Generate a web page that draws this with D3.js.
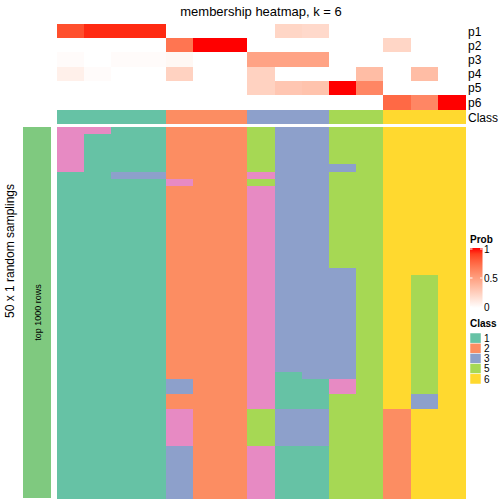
<!DOCTYPE html>
<html><head><meta charset="utf-8">
<script src="https://cdn.jsdelivr.net/npm/d3@7"></script>
<style>body{margin:0;background:#fff}svg{display:block;font-family:"Liberation Sans",Arial,sans-serif}rect.cell{shape-rendering:crispEdges}</style>
</head><body><svg id="c" width="504" height="504"></svg>
<script>
// ---- data ----
const samples = d3.range(15).map(i => "s" + (i + 1));
const probRows = ["p1", "p2", "p3", "p4", "p5", "p6"];
const p1 = [0.85, 0.95, 0.95, 0.95, 0, 0, 0, 0, 0.22, 0.2, 0, 0, 0, 0, 0];
const p2 = [0, 0, 0, 0, 0.7, 1, 1, 0, 0, 0, 0, 0, 0.22, 0, 0];
const p3 = [0.02, 0, 0.02, 0.02, 0.04, 0, 0, 0.48, 0.48, 0.48, 0, 0, 0, 0, 0];
const p4 = [0.08, 0.02, 0, 0, 0.24, 0, 0, 0.24, 0, 0, 0, 0.35, 0, 0.35, 0];
const p5 = [0, 0, 0, 0, 0, 0, 0, 0.24, 0.3, 0.32, 1, 0.62, 0, 0, 0];
const p6 = [0, 0, 0, 0, 0, 0, 0, 0, 0, 0, 0, 0, 0.75, 0.62, 1];
const classRow = [1, 1, 1, 1, 2, 2, 2, 3, 3, 3, 5, 5, 6, 6, 6];
// class per random sampling (50 rows), one string per sample column
const samplingCols = [
  "44444411111111111111111111111111111111111111111111",
  "41111111111111111111111111111111111111111111111111",
  "11111131111111111111111111111111111111111111111111",
  "11111131111111111111111111111111111111111111111111",
  "22222224222222222222222222222222223322444443333333",
  "22222222222222222222222222222222222222222222222222",
  "22222222222222222222222222222222222222222222222222",
  "55555545444444444444444444444444444444555554444444",
  "33333333333333333333333333333333311111333331111111",
  "33333333333333333333333333333333331111333331111111",
  "55555355555555555553333333333333334455555555555555",
  "55555555555555555555555555555555555555555555555555",
  "66666666666666666666666666666666666666222222222222",
  "66666666666666666666555555555555555533666666666666",
  "66666666666666666666666666666666666666666666666666"
];
const legendClasses = [1, 2, 3, 5, 6];
const probTicks = [0, 0.5, 1];
const probTickLabels = ["0", "0.5", "1"];

// ---- drawing ----
const probs = [p1, p2, p3, p4, p5, p6];
const classColor = d3.scaleOrdinal().domain([1, 2, 3, 4, 5, 6])
  .range(["#66C2A5", "#FC8D62", "#8DA0CB", "#E78AC3", "#A6D854", "#FFD92F"]);
const probColor = d3.scaleLinear().domain([0, 1]).range(["#FFFFFF", "#FF0000"]).interpolate(d3.interpolateLab);

const svg = d3.select("#c");
const x = d3.scaleBand().domain(d3.range(samples.length)).range([57, 465]);
const yAnn = d3.scaleBand().domain(probRows).range([24, 109.3]);
const yMain = d3.scaleBand().domain(d3.range(50)).range([127, 498]);

svg.append("text").attr("x", 261).attr("y", 16).attr("text-anchor", "middle")
  .attr("font-size", 13).text("membership heatmap, k = 6");

// prob annotation
probRows.forEach((r, ri) => {
  svg.append("g").selectAll("rect").data(probs[ri]).join("rect").attr("class", "cell")
    .attr("x", (d, i) => x(i)).attr("y", yAnn(r))
    .attr("width", x.bandwidth() + 0.5).attr("height", yAnn.bandwidth() + 0.5)
    .attr("fill", d => probColor(d));
  svg.append("text").attr("x", 468).attr("y", yAnn(r) + yAnn.bandwidth() / 2 + 4.5)
    .attr("font-size", 12).text(r);
});
// class annotation
svg.append("g").selectAll("rect").data(classRow).join("rect").attr("class", "cell")
  .attr("x", (d, i) => x(i)).attr("y", 110).attr("width", x.bandwidth() + 0.5).attr("height", 14)
  .attr("fill", d => classColor(d));
svg.append("text").attr("x", 468).attr("y", 121.5).attr("font-size", 12).text("Class");

// main heatmap
samplingCols.forEach((col, ci) => {
  svg.append("g").selectAll("rect").data(col.split("").map(Number)).join("rect").attr("class", "cell")
    .attr("x", x(ci)).attr("y", (d, i) => yMain(i))
    .attr("width", x.bandwidth() + 0.5).attr("height", yMain.bandwidth() + 0.5)
    .attr("fill", d => classColor(d));
});

// left split annotation
svg.append("rect").attr("x", 23).attr("y", 127).attr("width", 28).attr("height", 371).attr("fill", "#7FC97F");
svg.append("text").attr("transform", "translate(40.5,312.5) rotate(-90)").attr("text-anchor", "middle")
  .attr("font-size", 9).text("top 1000 rows");
svg.append("text").attr("transform", "translate(14,251) rotate(-90)").attr("text-anchor", "middle")
  .attr("font-size", 12).text("50 x 1 random samplings");

// Prob legend
const lg = svg.append("g");
lg.append("text").attr("x", 470).attr("y", 243).attr("font-size", 10).attr("font-weight", "bold").text("Prob");
const grad = svg.append("defs").append("linearGradient").attr("id", "pg")
  .attr("x1", 0).attr("y1", 1).attr("x2", 0).attr("y2", 0);
d3.range(0, 1.001, 0.1).forEach(t => grad.append("stop").attr("offset", t).attr("stop-color", probColor(t)));
const yLeg = d3.scaleLinear().domain([0, 1]).range([307, 249]);
lg.append("rect").attr("x", 470).attr("y", 248).attr("width", 12.5).attr("height", 60).attr("fill", "url(#pg)");
probTicks.forEach((t, i) => {
  lg.append("line").attr("x1", 470).attr("x2", 472.5).attr("y1", yLeg(t)).attr("y2", yLeg(t)).attr("stroke", "#fff");
  lg.append("line").attr("x1", 480).attr("x2", 482.5).attr("y1", yLeg(t)).attr("y2", yLeg(t)).attr("stroke", "#fff");
  lg.append("text").attr("x", 484).attr("y", yLeg(t) + 3.6).attr("font-size", 10).text(probTickLabels[i]);
});

// Class legend
lg.append("text").attr("x", 470).attr("y", 327).attr("font-size", 10).attr("font-weight", "bold").text("Class");
const yCl = d3.scaleBand().domain(legendClasses).range([333, 384]);
legendClasses.forEach(c => {
  lg.append("rect").attr("x", 470).attr("y", yCl(c)).attr("width", 11).attr("height", yCl.bandwidth())
    .attr("fill", classColor(c)).attr("stroke", "#fff").attr("stroke-width", 0.5);
  lg.append("text").attr("x", 484).attr("y", yCl(c) + yCl.bandwidth() / 2 + 3.6).attr("font-size", 10).text(c);
});
</script></body></html>
